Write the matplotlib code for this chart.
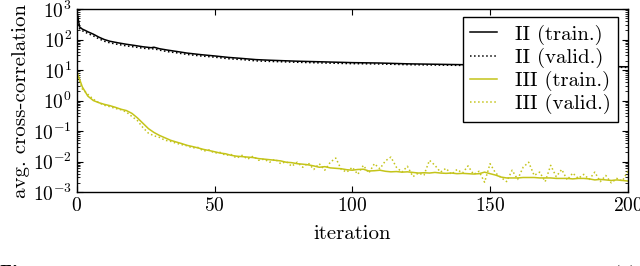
import matplotlib
matplotlib.use('Agg')
import matplotlib.pyplot as plt
from matplotlib.ticker import LogLocator, NullFormatter

plt.rcParams['font.family'] = 'serif'
plt.rcParams['font.serif'] = ['cmr10']
plt.rcParams['mathtext.fontset'] = 'cm'
plt.rcParams['axes.formatter.use_mathtext'] = True

# --- data ---
# model II, training (solid black)
ii_train_x = [0, 1, 2, 3, 4, 6, 8, 10, 12, 15, 18, 21, 24, 27, 28, 30, 33, 36, 40,
              45, 50, 55, 60, 65, 70, 80, 90, 100, 110, 120, 130, 140, 145, 150,
              160, 170, 180, 190, 200]
ii_train_y = [900, 260, 220, 200, 180, 150, 120, 100, 88, 78, 70, 64, 58, 54, 56, 50,
              45, 41, 36, 32, 29, 26, 24, 22, 21, 19.5, 18.5, 17.5, 17, 16, 15.5, 15,
              14.2, 14.5, 14, 13.6, 13.3, 13, 12.8]

# model II, validation (dotted black)
ii_valid_x = ii_train_x
ii_valid_y = [800, 230, 195, 175, 158, 132, 106, 88, 78, 69, 62, 57, 52, 49, 50, 45,
              40, 37, 32.5, 29, 26.5, 23.5, 22, 20, 19.2, 18, 17, 16.2, 15.8, 15, 14.6,
              14.2, 13.6, 13.8, 13.3, 13, 12.7, 12.4, 12.2]

# model III (yellow), sampled every 2 iterations
iii_x = list(range(0, 201, 2))
iii_train_y = [
    9, 2.8, 1.4, 1.0, 0.85, 0.75, 0.68, 0.6, 0.52, 0.47,
    0.38, 0.27, 0.18, 0.12, 0.09, 0.072, 0.06, 0.05, 0.044, 0.039,
    0.034, 0.031, 0.028, 0.025, 0.023, 0.021, 0.019, 0.018, 0.016, 0.015,
    0.0145, 0.014, 0.0135, 0.0125, 0.012, 0.0115, 0.011, 0.0105, 0.0095, 0.0092,
    0.0085, 0.0082, 0.0078, 0.0072, 0.0065, 0.0068, 0.0062, 0.006, 0.0058, 0.0054,
    0.0052, 0.0055, 0.0056, 0.0049, 0.005, 0.0052, 0.0048, 0.0046, 0.0047, 0.0045,
    0.0046, 0.0044, 0.0042, 0.0043, 0.0042, 0.0044, 0.0042, 0.0041, 0.0042, 0.0040,
    0.0041, 0.0040, 0.0039, 0.0040, 0.0045, 0.0040, 0.0036, 0.0031, 0.0029, 0.0029,
    0.0029, 0.0030, 0.0030, 0.0030, 0.0029, 0.0029, 0.0029, 0.0028, 0.0028, 0.0028,
    0.0027, 0.0028, 0.0028, 0.0027, 0.0025, 0.0026, 0.0025, 0.0024, 0.0025, 0.0024,
    0.0023,
]
iii_valid_y = [
    8, 2.4, 1.6, 1.1, 0.85, 0.7, 0.63, 0.55, 0.5, 0.42,
    0.3, 0.22, 0.13, 0.085, 0.07, 0.062, 0.05, 0.046, 0.04, 0.036,
    0.033, 0.028, 0.029, 0.022, 0.024, 0.019, 0.02, 0.016, 0.017, 0.013,
    0.016, 0.012, 0.015, 0.011, 0.012, 0.0095, 0.012, 0.0085, 0.010, 0.007,
    0.0095, 0.0065, 0.009, 0.0055, 0.0085, 0.0052, 0.0095, 0.013, 0.0055, 0.0045,
    0.0065, 0.0038, 0.0075, 0.0042, 0.0085, 0.0058, 0.0105, 0.014, 0.0065, 0.0045,
    0.007, 0.0032, 0.0042, 0.0036, 0.011, 0.0075, 0.0045, 0.006, 0.0038, 0.0055,
    0.0042, 0.0072, 0.0038, 0.0048, 0.0021, 0.0085, 0.0042, 0.0030, 0.0022, 0.0052,
    0.0026, 0.0065, 0.0095, 0.0035, 0.0045, 0.0022, 0.0075, 0.0032, 0.0055, 0.0025,
    0.0042, 0.0028, 0.0038, 0.0026, 0.0045, 0.0022, 0.0035, 0.0020, 0.0028, 0.0023,
    0.0048,
]

yellow = '#c4c41a'

fig = plt.figure(figsize=(6.4, 2.66), dpi=100)
ax = fig.add_axes([0.120, 0.278, 0.861, 0.688])

ax.plot(ii_train_x, ii_train_y, color='k', lw=1.1, label='II (train.)')
ax.plot(ii_valid_x, ii_valid_y, color='k', lw=1.1, ls=':', label='II (valid.)')
ax.plot(iii_x, iii_train_y, color=yellow, lw=1.1, label='III (train.)')
ax.plot(iii_x, iii_valid_y, color=yellow, lw=1.1, ls=':', label='III (valid.)')

ax.set_yscale('log')
ax.set_xlim(0, 200)
ax.set_ylim(1e-3, 1e3)
ax.set_xticks([0, 50, 100, 150, 200])
ax.yaxis.set_major_locator(LogLocator(base=10, numticks=10))
ax.yaxis.set_minor_locator(LogLocator(base=10, subs=range(2, 10), numticks=100))
ax.yaxis.set_minor_formatter(NullFormatter())
ax.tick_params(which='both', direction='in', top=True, right=True, labelsize=14)
ax.tick_params(which='major', length=4)
ax.tick_params(which='minor', length=2)
for sp in ax.spines.values():
    sp.set_linewidth(1.0)

ax.set_xlabel('iteration', fontsize=15, labelpad=7)
ax.set_ylabel('avg. cross-correlation', fontsize=15, labelpad=2)

leg = ax.legend(loc='upper right', fontsize=15, fancybox=False, framealpha=1,
                edgecolor='k', handlelength=1.3, handletextpad=0.85,
                borderpad=0.35, borderaxespad=0.0, labelspacing=0.15,
                bbox_to_anchor=(0.982, 0.955))
leg.get_frame().set_linewidth(1.0)

# caption line of the page, cut off at the bottom edge
fig.text(0.0, 0.004, 'Fig. 4.', fontsize=14, va='top', ha='left', fontname='cmb10')
fig.text(0.995, 0.004, '(a)', fontsize=14, va='top', ha='right')

fig.savefig('out.png', dpi=100)
